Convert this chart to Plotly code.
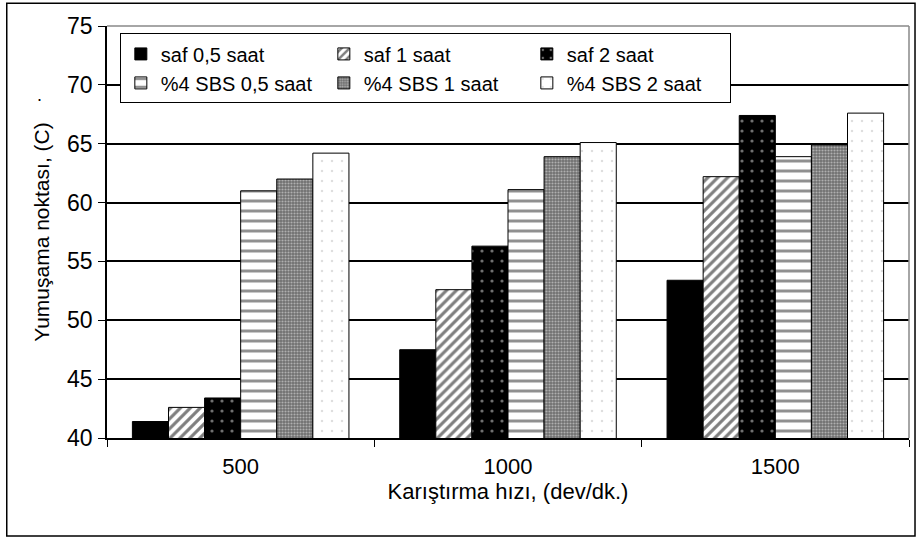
import plotly.graph_objects as go

categories = ["500", "1000", "1500"]
series_names = ["saf 0,5 saat", "saf 1 saat", "saf 2 saat",
                "%4 SBS 0,5 saat", "%4 SBS 1 saat", "%4 SBS 2 saat"]
saf_05 = [41.4, 47.5, 53.4]
saf_1 = [42.6, 52.6, 62.2]
saf_2 = [43.4, 56.3, 67.4]
sbs_05 = [61.0, 61.1, 63.9]
sbs_1 = [62.0, 63.9, 64.9]
sbs_2 = [64.2, 65.1, 67.6]
y_ticks = [40, 45, 50, 55, 60, 65, 70, 75]

values = [saf_05, saf_1, saf_2, sbs_05, sbs_1, sbs_2]
patterns = [
    dict(shape="", bgcolor="black"),
    dict(shape="/", fgcolor="black", bgcolor="white", size=7, solidity=0.45),
    dict(shape=".", fgcolor="#dddddd", bgcolor="black", size=10, solidity=0.08),
    dict(shape="-", fgcolor="#222222", bgcolor="white", size=10, solidity=0.3),
    dict(shape=".", fgcolor="#eeeeee", bgcolor="#707070", size=3, solidity=0.4),
    dict(shape=".", fgcolor="#bbbbbb", bgcolor="white", size=10, solidity=0.05),
]
colors = ["black", "white", "black", "white", "#888888", "white"]

fig = go.Figure()
for name, vals, pat, col in zip(series_names, values, patterns, colors):
    fig.add_trace(go.Bar(
        x=categories, y=vals, name=name,
        base=0,
        marker=dict(color=col, pattern=pat, line=dict(color="black", width=1)),
    ))

FONT = "Liberation Sans, Arial, sans-serif"
fig.update_layout(
    width=918, height=538,
    margin=dict(l=107, r=9, t=26, b=100),
    paper_bgcolor="white", plot_bgcolor="white",
    barmode="group", bargap=0.19, bargroupgap=0,
    font=dict(family=FONT, size=22, color="black"),
    showlegend=True,
    legend=dict(
        orientation="h", x=0.016, y=0.982, xanchor="left", yanchor="top",
        bgcolor="white", bordercolor="black", borderwidth=1,
        font=dict(size=20, family=FONT),
        entrywidth=158, entrywidthmode="pixels",
        traceorder="normal",
    ),
    xaxis=dict(
        type="category", showline=True, linecolor="black", linewidth=1.5,
        ticks="outside", ticklen=7, tickcolor="black", tickson="boundaries",
        tickfont=dict(size=22), showgrid=False, ticklabelstandoff=8,
        title=dict(text="Karıştırma hızı, (dev/dk.)", font=dict(size=22), standoff=2),
    ),
    yaxis=dict(
        range=[40, 75], tickvals=y_ticks, showline=True, linecolor="black", linewidth=1.5,
        ticks="outside", ticklen=7, tickcolor="black",
        showgrid=True, gridcolor="black", gridwidth=1.5,
        tickfont=dict(size=23), ticklabelstandoff=1,
        title=dict(text="Yumuşama noktası, (C)", font=dict(size=21), standoff=12),
        mirror=False, zeroline=False,
    ),
    shapes=[
        dict(type="rect", xref="paper", yref="paper", x0=-0.125, x1=1.0075, y0=-0.238, y1=1.055,
             line=dict(color="black", width=1.5), layer="below"),
        dict(type="line", xref="paper", yref="paper", x0=0, x1=1, y0=1, y1=1,
             line=dict(color="#888888", width=1.5)),
        dict(type="line", xref="paper", yref="paper", x0=1, x1=1, y0=0, y1=1,
             line=dict(color="#888888", width=1.5)),
    ],
    annotations=[
        dict(text=".", xref="paper", yref="paper", x=-0.084, y=0.833, showarrow=False,
             font=dict(size=18), xanchor="center", yanchor="middle"),
    ],
)

fig.write_html("out.html", config={"displayModeBar": False},
               post_script="document.body.style.margin='0px';")
